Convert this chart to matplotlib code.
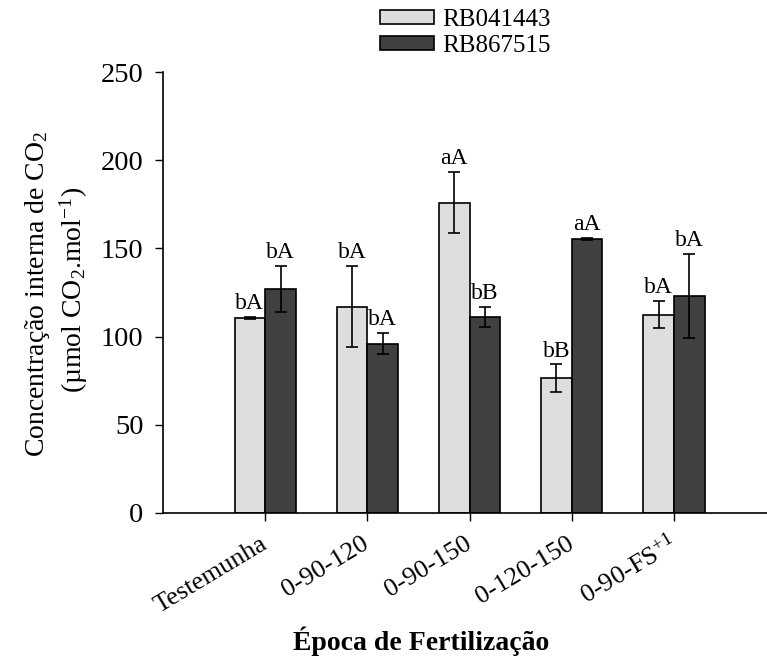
import numpy as np
from matplotlib import pyplot as plt
from matplotlib.patches import Patch

plt.rcParams["font.family"] = "Liberation Serif"
plt.rcParams["mathtext.fontset"] = "custom"
plt.rcParams["mathtext.rm"] = "Liberation Serif"
plt.rcParams["mathtext.it"] = "Liberation Serif:italic"

CATEGORIES = ["Testemunha", "0-90-120", "0-90-150", "0-120-150", "0-90-FS$^{+1}$"]
SERIES = ["RB041443", "RB867515"]
RB041443 = [110.5, 117.0, 176.0, 76.5, 112.5]
RB041443_ERR = [0.6, 23.0, 17.5, 7.8, 7.6]
RB867515 = [127.0, 96.0, 111.0, 155.3, 123.0]
RB867515_ERR = [13.0, 6.0, 5.8, 0.5, 23.7]
LETTERS_041443 = ["bA", "bA", "aA", "bB", "bA"]
LETTERS_867515 = ["bA", "bA", "bB", "aA", "bA"]
YTICKS = [0, 50, 100, 150, 200, 250]

COLORS = ["#dedede", "#404040"]
WIDTH = 0.3

fig = plt.figure(figsize=(7.67, 6.66), dpi=100)
ax = fig.add_axes([163 / 767, 153 / 666, 604 / 767, 441 / 666])

x = np.arange(len(CATEGORIES))
err_kw = dict(ecolor="black", elinewidth=1.2, capsize=4.3, capthick=1.2)
ax.bar(x - WIDTH / 2, RB041443, WIDTH, yerr=RB041443_ERR, color=COLORS[0],
       edgecolor="black", linewidth=1.2, error_kw=err_kw, zorder=2)
ax.bar(x + WIDTH / 2, RB867515, WIDTH, yerr=RB867515_ERR, color=COLORS[1],
       edgecolor="black", linewidth=1.2, error_kw=err_kw, zorder=2)

for xs, vals, errs, labs in [(x - WIDTH / 2, RB041443, RB041443_ERR, LETTERS_041443),
                             (x + WIDTH / 2, RB867515, RB867515_ERR, LETTERS_867515)]:
    for xi, v, e, lab in zip(xs, vals, errs, labs):
        ax.annotate(lab, (xi, v + e), xytext=(0, 2), textcoords="offset points",
                    ha="center", va="bottom", fontsize=17)

ax.set_xlim(-1, 4.91)
ax.set_ylim(0, 250)
ax.set_yticks(YTICKS)
ax.set_xticks(x)
ax.set_xticklabels(CATEGORIES, rotation=31, ha="right", va="center",
                   rotation_mode="anchor", fontsize=19)
ax.tick_params(axis="y", labelsize=20.5, direction="out", length=6, width=1, pad=8)
ax.tick_params(axis="x", direction="out", length=6, width=1, pad=15)
for s in ["top", "right"]:
    ax.spines[s].set_visible(False)
for s in ["left", "bottom"]:
    ax.spines[s].set_linewidth(1.2)

fig.text(38 / 767, 1 - 294 / 666, "Concentração interna de CO$_2$", rotation=90,
         ha="center", va="center", fontsize=20)
fig.text(74 / 767, 1 - 290 / 666, "(µmol CO$_2$.mol$^{-1}$)", rotation=90,
         ha="center", va="center", fontsize=20)
fig.text(421 / 767, 1 - 641 / 666, "Época de Fertilização", ha="center", va="center",
         fontsize=20, fontweight="bold")

handles = [Patch(facecolor=COLORS[0], edgecolor="black", linewidth=1.2),
           Patch(facecolor=COLORS[1], edgecolor="black", linewidth=1.2)]
fig.legend(handles, SERIES, loc="upper left", bbox_to_anchor=(370 / 767, 1 + 1 / 666),
           frameon=False, fontsize=18, handlelength=2.16, handleheight=0.48,
           handletextpad=0.32, labelspacing=0.17, borderaxespad=0)

fig.savefig("out.png", dpi=100)
